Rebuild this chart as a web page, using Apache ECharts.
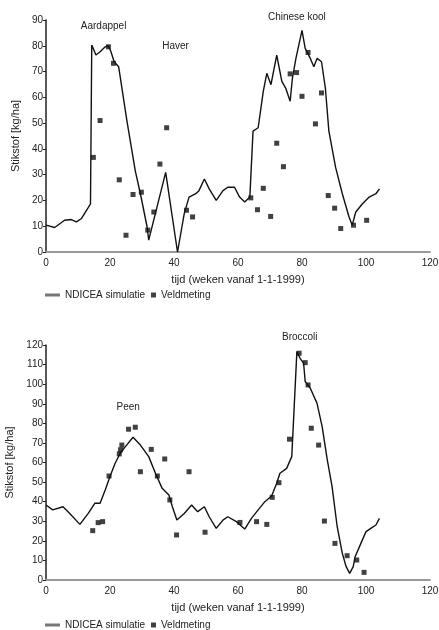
<!DOCTYPE html>
<html lang="nl">
<head>
    <meta charset="utf-8">
    <title>Stikstof NDICEA</title>
    <script src="https://cdn.jsdelivr.net/npm/echarts@6/dist/echarts.min.js"></script>
    <style>
        html, body { margin: 0; padding: 0; background: #fff; }
        #main { width: 439px; height: 630px; }
    </style>
</head>
<body>
    <div id="main"></div>
    <script type="text/javascript">
        // bovenste grafiek: aardappel / haver / chinese kool
        var topSimWeek = [0, 2.7, 5.8, 7.9, 9.5, 11.1, 12.7, 13.9, 14.3, 14.7, 15.6, 16.9, 18.5, 19.5, 20.3, 21.3, 22.7, 25.3, 27.9, 29.5, 31.6, 32.1, 37.4, 41.1, 43.2, 44.7, 46.8, 47.8, 49.5, 51, 53.2, 55.3, 56.8, 58.9, 60.5, 62.1, 63.7, 64.7, 66.3, 67.9, 69, 70.3, 72.1, 73.7, 74.9, 76.3, 77, 78.1, 80, 81, 82.6, 83.7, 84.7, 86.1, 87.3, 88.4, 90.5, 92.6, 94.7, 95.7, 96.8, 98.9, 101, 103.1, 104.2];
        var topSimN = [10.4, 9.5, 12.3, 12.6, 11.7, 13, 16.2, 18.7, 80.3, 81, 76.4, 77.7, 79.6, 80, 77.7, 73.8, 71.9, 50.8, 31.5, 22.6, 9.7, 4.6, 30.9, 0, 14.9, 21.3, 22.6, 23.8, 28.3, 24.5, 20, 23.8, 25.1, 25.1, 21.3, 19.4, 21.3, 46.9, 48.2, 62.3, 69.3, 64.9, 76.4, 66.2, 63.6, 58.5, 67.4, 75.1, 86, 79, 75.1, 71.9, 75.1, 73.8, 63.6, 46.9, 32.8, 22.6, 13.6, 10.4, 15.5, 18.7, 21.3, 22.6, 24.5];
        var topObsWeek = [14.8, 16.9, 19.5, 21.1, 22.9, 25, 27.2, 29.8, 31.8, 33.7, 35.6, 37.7, 43.9, 45.8, 64, 66.1, 67.9, 70.2, 72.1, 74.2, 76.3, 78.3, 80, 81.9, 84.2, 86.1, 88.2, 90.2, 92.1, 96.1, 100.2];
        var topObsN = [36.7, 51, 79.6, 73.2, 28, 6.5, 22.3, 23.2, 8.5, 15.5, 34.1, 48.2, 16.2, 13.6, 21, 16.4, 24.7, 13.8, 42.2, 33.1, 69.1, 69.6, 60.4, 77.4, 49.7, 61.7, 21.9, 17, 9.1, 10.4, 12.3];
        var topCrops = ['Aardappel', 'Haver', 'Chinese kool'];
        var topCropWeek = [18, 40.5, 78.4];
        var topCropN = [87.7, 80, 91];

        // onderste grafiek: peen / broccoli
        var botSimWeek = [0, 2.1, 5.3, 6.9, 10.6, 13.2, 15.3, 16.9, 18.5, 20, 21.6, 23.2, 24.8, 27.2, 29.5, 32.1, 34.2, 36.3, 38.4, 39.5, 40.9, 43.2, 45.5, 47.4, 49.5, 51, 53.2, 55.3, 56.8, 59.5, 62.1, 64.2, 66.3, 68.4, 70.5, 72.1, 73.1, 75.2, 76.8, 78.4, 79.4, 80.5, 81, 82.6, 84.7, 86.3, 87.9, 89.4, 91, 92.6, 93.8, 94.9, 96, 96.6, 98.4, 100, 101.5, 103.1, 104.2];
        var botSimN = [38.3, 35.8, 37.4, 34.9, 28.4, 34, 39.2, 39.2, 46, 52.8, 59.6, 64.7, 68.1, 72.9, 68.9, 63, 54.5, 46.8, 43.4, 37.4, 30.6, 34, 38.3, 34.9, 37.4, 32.3, 26.4, 30.6, 32.3, 29.8, 26, 31.5, 35.8, 40, 42.9, 49.4, 54.5, 57, 63, 116.6, 113.2, 110.7, 101.3, 97.9, 90.2, 78.3, 61.3, 47.7, 27.2, 13.6, 6.8, 3.4, 6.8, 11.9, 18.7, 24.7, 26.4, 28.1, 31.5];
        var botObsWeek = [14.6, 16.3, 17.7, 19.7, 22.9, 23.3, 23.7, 25.8, 27.9, 29.5, 32.9, 34.8, 37.1, 38.7, 40.8, 44.7, 49.7, 60.6, 65.8, 69, 70.7, 72.8, 76.1, 79.1, 81, 81.9, 82.9, 85.2, 87, 90.3, 94.1, 97.1, 99.4];
        var botObsN = [25.2, 29.3, 29.8, 53.1, 64.4, 66.5, 68.9, 77, 78, 55.3, 66.7, 53.1, 61.8, 40.9, 23, 55.3, 24.4, 29.4, 29.8, 28.4, 42.2, 49.7, 71.9, 115.8, 111, 99.6, 77.5, 68.9, 30.1, 18.7, 12.4, 10.2, 3.9];
        var botCrops = ['Peen', 'Broccoli'];
        var botCropWeek = [25.7, 79.3];
        var botCropN = [88, 124];

        var xTicks = [0, 20, 40, 60, 80, 100, 120];

        function pairs(xs, ys) {
            return xs.map(function (x, i) { return [x, ys[i]]; });
        }

        var txt = '#222';
        var font = 'Liberation Sans, Arial, sans-serif';

        function xAxis(idx) {
            return {
                gridIndex: idx, type: 'value', min: xTicks[0], max: xTicks[xTicks.length - 1], interval: 20,
                name: 'tijd (weken vanaf 1-1-1999)', nameLocation: 'middle', nameGap: 22,
                nameTextStyle: { color: txt, fontSize: 11, fontFamily: font },
                axisLine: { lineStyle: { color: '#999', width: 2 } },
                axisTick: { show: false },
                axisLabel: { color: txt, fontSize: 10, fontFamily: font, margin: 6 },
                splitLine: { show: false }
            };
        }
        function yAxis(idx, max) {
            return {
                gridIndex: idx, type: 'value', min: 0, max: max, interval: 10,
                name: 'Stikstof [kg/ha]', nameLocation: 'middle', nameGap: 21,
                nameTextStyle: { color: txt, fontSize: 11, fontFamily: font },
                axisLine: { show: true, lineStyle: { color: '#222', width: 1.5 } },
                axisTick: { show: true, length: 3, lineStyle: { color: '#222' } },
                axisLabel: { color: txt, fontSize: 10, fontFamily: font, margin: 3 },
                splitLine: { show: false }
            };
        }
        // twee legenda's per grafiek, zodat lijn en blokje elk hun eigen maat krijgen
        function lineLegend(top) {
            return {
                left: 45, top: top, padding: 0, itemWidth: 15, itemHeight: 3,
                textStyle: { color: txt, fontSize: 10, fontFamily: font },
                data: [{ name: 'NDICEA simulatie', icon: 'rect', itemStyle: { color: '#777' } }]
            };
        }
        function dotLegend(top) {
            return {
                left: 151, top: top, padding: 0, itemWidth: 5, itemHeight: 5,
                textStyle: { color: txt, fontSize: 10, fontFamily: font },
                data: [{ name: 'Veldmeting', icon: 'rect', itemStyle: { color: '#111' } }]
            };
        }

        var myChart = echarts.init(document.getElementById('main'));
        var option = {
            backgroundColor: '#fff',
            animation: false,
            grid: [
                { left: 46, top: 20, width: 384, height: 232, outerBoundsMode: 'none' },
                { left: 46, top: 345, width: 384, height: 235, outerBoundsMode: 'none' }
            ],
            legend: [lineLegend(290), dotLegend(290), lineLegend(620), dotLegend(620)],
            xAxis: [xAxis(0), xAxis(1)],
            yAxis: [yAxis(0, 90), yAxis(1, 120)],
            series: [
                {
                    name: 'NDICEA simulatie', type: 'line', xAxisIndex: 0, yAxisIndex: 0,
                    data: pairs(topSimWeek, topSimN), symbol: 'none',
                    lineStyle: { color: '#111', width: 1.4 }, itemStyle: { color: '#111' }
                },
                {
                    name: 'Veldmeting', type: 'scatter', xAxisIndex: 0, yAxisIndex: 0,
                    data: pairs(topObsWeek, topObsN), symbol: 'rect', symbolSize: 5,
                    itemStyle: { color: '#111' }
                },
                {
                    name: 'NDICEA simulatie', type: 'line', xAxisIndex: 1, yAxisIndex: 1,
                    data: pairs(botSimWeek, botSimN), symbol: 'none',
                    lineStyle: { color: '#111', width: 1.4 }, itemStyle: { color: '#111' }
                },
                {
                    name: 'Veldmeting', type: 'scatter', xAxisIndex: 1, yAxisIndex: 1,
                    data: pairs(botObsWeek, botObsN), symbol: 'rect', symbolSize: 5,
                    itemStyle: { color: '#111' }
                }
            ]
        };
        myChart.setOption(option);

        // gewasnamen boven de pieken, via de assen naar pixels omgerekend
        var labels = [];
        function addCrops(gridIndex, names, xs, ys) {
            names.forEach(function (n, i) {
                var p = myChart.convertToPixel({ gridIndex: gridIndex }, [xs[i], ys[i]]);
                labels.push({
                    type: 'text', x: p[0], y: p[1],
                    style: { text: n, fill: txt, font: '10px ' + font, align: 'center', verticalAlign: 'middle' }
                });
            });
        }
        addCrops(0, topCrops, topCropWeek, topCropN);
        addCrops(1, botCrops, botCropWeek, botCropN);
        myChart.setOption({ graphic: labels });
    </script>
</body>
</html>
